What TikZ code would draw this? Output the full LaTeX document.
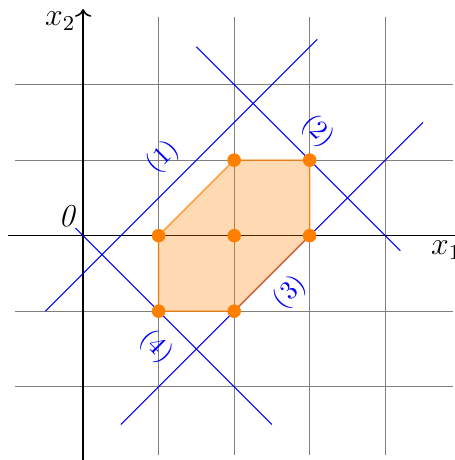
\documentclass[tikz,border=0pt]{standalone}
\usetikzlibrary{arrows.meta}
\begin{document}
\begin{tikzpicture}[x=1cm,y=1cm,
  gridline/.style={gray,line width=0.4pt},
  axisline/.style={black,line width=0.6pt},
  cons/.style={blue,line width=0.4pt},
  conslabel/.style={blue,inner sep=1pt,font=\normalsize},
  hullfill/.style={fill=orange,fill opacity=0.3,draw=orange,draw opacity=0.7,line width=0.6pt},
  ipt/.style={circle,fill=orange,inner sep=0pt,minimum size=5pt}]
\useasboundingbox (-1.1,-2.97) rectangle (4.92,3.12);
\draw[gridline] (-0.9,-2.9) grid (4.9,2.9);
\draw[axisline,->] (-1,0) -- (5.15,0);
\draw[axisline,->] (0,-3) -- (0,3);
\node[anchor=base west,font=\large,inner sep=0pt] (xone) at (4.6,-0.25) {$x_1$};
\node[font=\large,anchor=east,inner sep=1pt] (xtwo) at (-0.06,2.84) {$x_2$};
\node[font=\large] (zero) at (-0.21,0.26) {\textit{0}};
% constraint lines
\coordinate (c1a) at (-0.5,-1); \coordinate (c1b) at (3.1,2.6);
\coordinate (c2a) at (1.5,2.5); \coordinate (c2b) at (4.2,-0.2);
\coordinate (c3a) at (0.5,-2.5); \coordinate (c3b) at (4.5,1.5);
\coordinate (c4a) at (-0.1,0.1); \coordinate (c4b) at (2.5,-2.5);
\draw[cons] (c1a) -- (c1b);
\draw[cons] (c2a) -- (c2b);
\draw[cons] (c3a) -- (c3b);
\draw[cons] (c4a) -- (c4b);
% integer hull
\node[ipt] (p1) at (1,0) {};
\node[ipt] (p2) at (2,1) {};
\node[ipt] (p3) at (3,1) {};
\node[ipt] (p4) at (3,0) {};
\node[ipt] (p5) at (2,-1) {};
\node[ipt] (p6) at (1,-1) {};
\node[ipt] (p7) at (2,0) {};
\path[hullfill] (p1.center) -- (p2.center) -- (p3.center) -- (p4.center) -- (p5.center) -- (p6.center) -- cycle;
\foreach \p in {p1,p2,p3,p4,p5,p6,p7} \fill[orange] (\p) circle (2.5pt);
% labels
\node[conslabel,rotate=45] (l1) at (1.06,1.04) {(1)};
\node[conslabel,rotate=-45] (l2) at (3.11,1.38) {(2)};
\node[conslabel,rotate=45] (l3) at (2.74,-0.75) {(3)};
\node[conslabel,rotate=-45] (l4) at (0.97,-1.47) {(4)};
\end{tikzpicture}
\end{document}
